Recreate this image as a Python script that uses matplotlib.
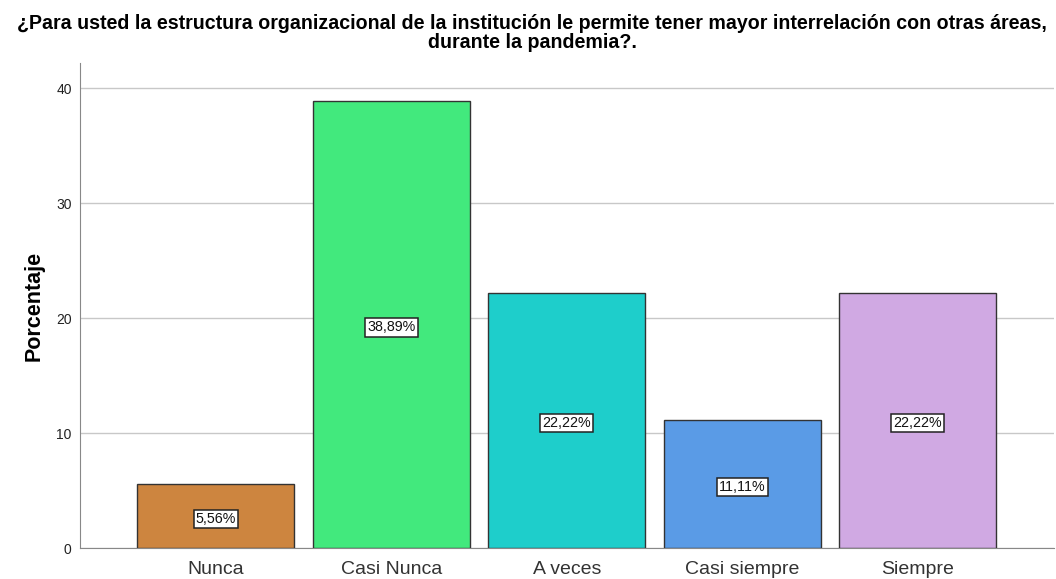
import matplotlib.pyplot as plt

plt.rcParams["font.family"] = ["Liberation Sans", "DejaVu Sans"]

categorias = ["Nunca", "Casi Nunca", "A veces", "Casi siempre", "Siempre"]
porcentajes = [5.56, 38.89, 22.22, 11.11, 22.22]
etiquetas = ["5,56%", "38,89%", "22,22%", "11,11%", "22,22%"]
colores = ["#CD853F", "#42E97D", "#1ECECB", "#5A9BE6", "#D0A9E3"]

fig = plt.figure(figsize=(10.56, 5.79), dpi=100)
ax = fig.add_axes([0.0758, 0.0535, 0.922, 0.8375])

x = range(len(categorias))
bars = ax.bar(x, porcentajes, width=0.894, color=colores, edgecolor="#333333",
              linewidth=1.0, zorder=3)

for b, txt in zip(bars, etiquetas):
    ax.text(b.get_x() + b.get_width() / 2, b.get_height() / 2 - 0.25, txt,
            ha="center", va="center", fontsize=10.3, color="#111111", zorder=4,
            bbox=dict(boxstyle="square,pad=0.15", facecolor="white",
                      edgecolor="#222222", linewidth=1.1))

ax.set_xlim(-0.774, 4.774)
ax.set_ylim(0, 42.2)
ax.set_yticks([0, 10, 20, 30, 40])
ax.set_xticks(list(x))
ax.set_xticklabels(categorias, fontsize=14, color="#333333")
ax.tick_params(axis="y", length=0, pad=6, labelsize=10, labelcolor="#222222")
ax.tick_params(axis="x", length=0, pad=9)
ax.yaxis.grid(True, color="#c8c8c8", linewidth=1.0, zorder=0)

for s in ["top", "right"]:
    ax.spines[s].set_visible(False)
ax.spines["left"].set_color("#888888")
ax.spines["bottom"].set_color("#888888")

ax.set_ylabel("Porcentaje", fontsize=15.5, fontweight="bold", labelpad=8)
fig.text(0.504, 0.976,
         "¿Para usted la estructura organizacional de la institución le permite tener mayor interrelación con otras áreas,\ndurante la pandemia?.",
         ha="center", va="top", fontsize=14.1, fontweight="bold", linespacing=1.02)

fig.savefig("out.png", dpi=100)
